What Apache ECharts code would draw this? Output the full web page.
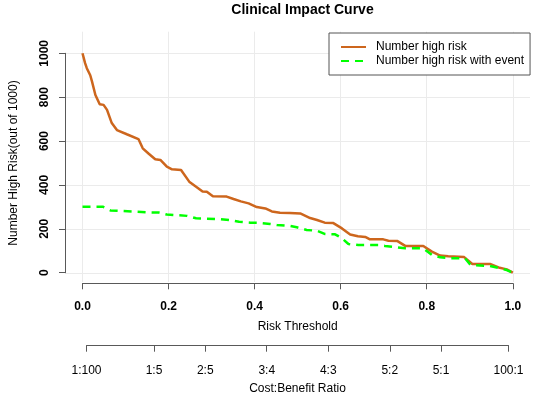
<!DOCTYPE html>
<html><head><meta charset="utf-8">
<script src="https://cdn.jsdelivr.net/npm/echarts@6/dist/echarts.min.js"></script>
<style>html,body{margin:0;padding:0;background:#fff}#c{width:536px;height:397px}</style>
</head><body><div id="c"></div>
<script>
const chartTitle = "Clinical Impact Curve";
const seriesNames = ["Number high risk", "Number high risk with event"];
const riskThresholdTicks = [0, 0.2, 0.4, 0.6, 0.8, 1.0];
const highRiskTicks = [0, 200, 400, 600, 800, 1000];
const costBenefitLabels = ["1:100", "1:5", "2:5", "3:4", "4:3", "5:2", "5:1", "100:1"];

const numberHighRisk = [
  [0, 1000], [0.006, 955], [0.010, 932], [0.018, 900], [0.022, 872], [0.030, 810],
  [0.040, 768], [0.049, 765], [0.057, 742], [0.068, 682], [0.080, 650], [0.103, 631],
  [0.130, 609], [0.140, 567], [0.154, 542], [0.169, 517], [0.181, 514], [0.196, 483],
  [0.208, 471], [0.229, 468], [0.248, 415], [0.264, 392], [0.279, 370], [0.289, 369],
  [0.303, 348], [0.335, 347], [0.351, 336], [0.368, 325], [0.386, 316], [0.405, 299],
  [0.425, 293], [0.440, 279], [0.459, 273], [0.482, 272], [0.506, 270], [0.529, 249],
  [0.545, 240], [0.563, 228], [0.583, 226], [0.603, 202], [0.622, 174], [0.640, 166],
  [0.657, 163], [0.668, 152], [0.699, 152], [0.711, 146], [0.732, 144], [0.750, 122],
  [0.792, 122], [0.812, 96], [0.831, 78], [0.850, 75], [0.887, 71], [0.906, 40],
  [0.947, 40], [0.967, 24], [0.986, 15], [1.0, 0]
];
const numberHighRiskWithEvent = [
  [0, 301], [0.047, 301], [0.065, 284], [0.150, 275], [0.177, 274], [0.196, 265],
  [0.243, 259], [0.264, 248], [0.320, 244], [0.343, 240], [0.364, 232], [0.390, 228],
  [0.413, 227], [0.436, 222], [0.452, 217], [0.483, 213], [0.498, 207], [0.521, 195],
  [0.545, 191], [0.564, 176], [0.587, 175], [0.603, 157], [0.618, 131], [0.641, 126],
  [0.688, 126], [0.703, 122], [0.730, 116], [0.750, 111], [0.792, 111], [0.812, 81],
  [0.831, 70], [0.854, 66], [0.889, 66], [0.902, 35], [0.947, 31], [0.970, 20],
  [0.986, 12], [1.0, 0]
];

// threshold positions of the cost:benefit labels (cost/(cost+benefit))
const costBenefitValues = costBenefitLabels.map(s => {
  const p = s.split(":").map(Number);
  return p[0] / (p[0] + p[1]);
});
const cbLabelOf = v => {
  let best = 0;
  costBenefitValues.forEach((c, i) => { if (Math.abs(c - v) < Math.abs(costBenefitValues[best] - v)) best = i; });
  return costBenefitLabels[best];
};

const FONT = "'Liberation Sans', Arial, sans-serif";
const AXIS_COLOR = "#595959";
const GRID_COLOR = "#ebebeb";

const chart = echarts.init(document.getElementById("c"), null, { renderer: "canvas" });
chart.setOption({
  animation: false,
  backgroundColor: "#ffffff",
  textStyle: { fontFamily: FONT },
  title: {
    text: chartTitle, left: 297.5, textAlign: "center", top: -2,
    textStyle: { fontFamily: FONT, fontSize: 14, fontWeight: "bold", color: "#000" }
  },
  legend: {
    data: seriesNames, orient: "vertical", left: 329, top: 33,
    padding: [8, 6, 8, 11], itemWidth: 25, itemHeight: 14, itemGap: 2,
    borderColor: "#555", borderWidth: 1, backgroundColor: "#fff",
    itemStyle: { opacity: 0 },
    textStyle: { fontFamily: FONT, fontSize: 12, color: "#000", padding: [0, 0, 0, 5] }
  },
  grid: [
    { left: 82.2, width: 430.6, top: 53.3, height: 219.4 },
    { left: 65, width: 465, top: 31.7, height: 250.3 },
    { left: 86.5, width: 422, top: 340, height: 5.7 }
  ],
  xAxis: [
    {
      gridIndex: 0, type: "value", min: 0, max: 1, interval: 0.2, offset: 10.6,
      axisLine: { show: true, onZero: false, lineStyle: { color: AXIS_COLOR, width: 1 } },
      axisTick: { show: true, length: 6, lineStyle: { color: AXIS_COLOR } },
      axisLabel: { margin: 17, color: "#000", fontWeight: "bold", fontSize: 12, fontFamily: FONT,
        formatter: v => v.toFixed(1) },
      splitLine: { show: false },
      name: "Risk Threshold", nameLocation: "middle", nameGap: 37,
      nameTextStyle: { color: "#000", fontSize: 12, fontFamily: FONT }
    },
    {
      gridIndex: 1, type: "value", min: -0.04, max: 1.04,
      axisLine: { show: false },
      axisTick: { show: false, customValues: riskThresholdTicks },
      axisLabel: { show: false, customValues: riskThresholdTicks },
      splitLine: { show: true, lineStyle: { color: GRID_COLOR, width: 1 } }
    },
    {
      gridIndex: 2, type: "value", min: costBenefitValues[0], max: costBenefitValues[costBenefitValues.length - 1],
      axisLine: { show: true, onZero: false, lineStyle: { color: AXIS_COLOR, width: 1 } },
      axisTick: { show: true, length: 6, customValues: costBenefitValues, lineStyle: { color: AXIS_COLOR } },
      axisLabel: { show: true, customValues: costBenefitValues, margin: 19, color: "#000", fontSize: 12, fontFamily: FONT,
        formatter: v => cbLabelOf(v) },
      splitLine: { show: false },
      name: "Cost:Benefit Ratio", nameLocation: "middle", nameGap: 37,
      nameTextStyle: { color: "#000", fontSize: 12, fontFamily: FONT }
    }
  ],
  yAxis: [
    {
      gridIndex: 0, type: "value", min: 0, max: 1000, interval: 200, offset: 17.5,
      axisLine: { show: true, onZero: false, lineStyle: { color: AXIS_COLOR, width: 1 } },
      axisTick: { show: true, length: 6, lineStyle: { color: AXIS_COLOR } },
      axisLabel: { rotate: 90, margin: 14, color: "#000", fontWeight: "bold", fontSize: 12, fontFamily: FONT,
        formatter: v => String(v) },
      splitLine: { show: false },
      name: "Number High Risk(out of 1000)", nameLocation: "middle", nameGap: 45,
      nameTextStyle: { color: "#000", fontSize: 12, fontFamily: FONT }
    },
    {
      gridIndex: 1, type: "value", min: -42, max: 1098,
      axisLine: { show: false },
      axisTick: { show: false, customValues: highRiskTicks },
      axisLabel: { show: false, customValues: highRiskTicks },
      splitLine: { show: true, lineStyle: { color: GRID_COLOR, width: 1 } }
    },
    { gridIndex: 2, type: "value", show: false }
  ],
  series: [
    {
      name: seriesNames[0], type: "line", xAxisIndex: 0, yAxisIndex: 0,
      data: numberHighRisk, symbol: "none", z: 3,
      lineStyle: { color: "#CD661D", width: 2.5 }, itemStyle: { color: "#CD661D" }
    },
    {
      name: seriesNames[1], type: "line", xAxisIndex: 0, yAxisIndex: 0,
      data: numberHighRiskWithEvent, symbol: "none", z: 4,
      lineStyle: { color: "#00FF00", width: 2.5, type: [8, 6] }, itemStyle: { color: "#00FF00" }
    }
  ]
});
</script>
</body></html>
